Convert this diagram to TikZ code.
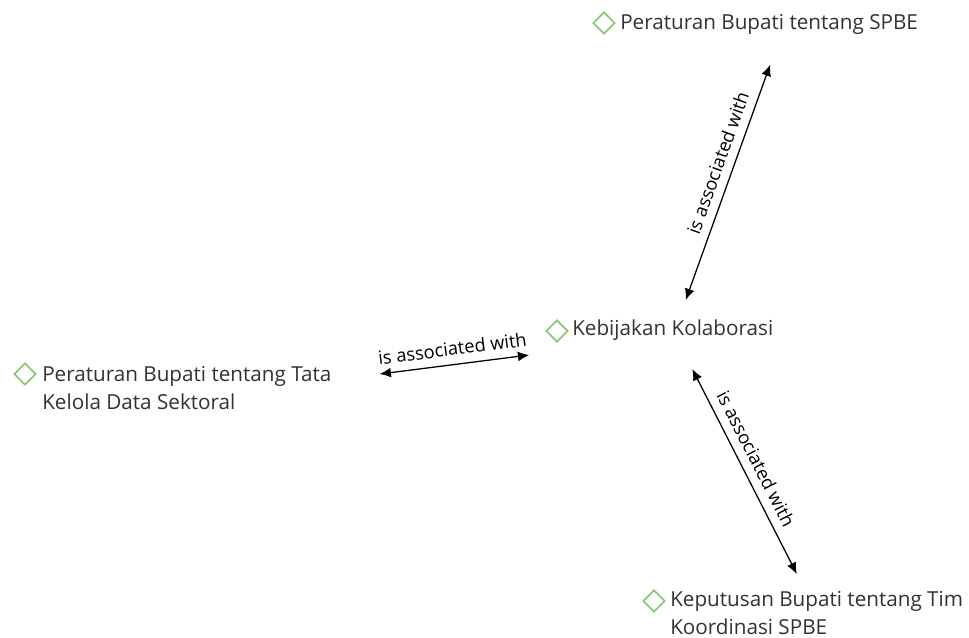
\documentclass[tikz,border=0pt]{standalone}
\usepackage{fontspec}
\setmainfont{Open Sans}
\usepackage{xcolor}
\usepackage{tikz}
\usetikzlibrary{shapes.geometric, arrows.meta, positioning, calc}

\definecolor{markgreen}{RGB}{140,200,120}
\definecolor{conceptgray}{RGB}{50,50,50}

\begin{document}
\begin{tikzpicture}[x=0.025cm, y=-0.025cm, >={Latex[length=8pt,width=7pt]}]
    % Styles
    \tikzstyle{concept} = [inner sep=0pt, anchor=north west, align=left, text=conceptgray, font=\fontsize{14.7}{20}\selectfont]
    \tikzstyle{marker} = [diamond, draw=markgreen, fill=white, line width=1.2pt, minimum size=0.55cm, inner sep=0pt]
    \tikzstyle{line} = [draw, <->, line width=0.9pt]
    \tikzstyle{rel} = [sloped, above, inner sep=6pt, font=\fontsize{13}{15}\selectfont]

    \useasboundingbox (0,0) rectangle (969,638);

    % Nodes
    \node [concept] (kebijakan) at (572,320) {Kebijakan Kolaborasi};
    \node [concept] (spbe) at (620,14) {Peraturan Bupati tentang SPBE};
    \node [concept] (tata) at (42,366) {Peraturan Bupati tentang Tata\\Kelola Data Sektoral};
    \node [concept] (koord) at (670,591) {Keputusan Bupati tentang Tim\\Koordinasi SPBE};

    % Markers
    \node [marker] (kebijakanM) at ([shift={(-15,11)}]kebijakan.north west) {};
    \node [marker] (spbeM) at ([shift={(-16,9)}]spbe.north west) {};
    \node [marker] (tataM) at ([shift={(-17,8)}]tata.north west) {};
    \node [marker] (koordM) at ([shift={(-16,10)}]koord.north west) {};

    % Edges
    \draw [line] ([shift={(13,-20)}]kebijakan.north) -- node [rel, pos=0.56] {is associated with} ([shift={(1,30)}]spbe.south);
    \draw [line] ([shift={(48,-14)}]tata.east) -- node [rel] {is associated with} ([shift={(-16,24)}]kebijakanM.west);
    \draw [line, shorten <=0.78cm, shorten >=0.48cm] (kebijakan) -- node [rel] {is associated with} (koord);
\end{tikzpicture}
\end{document}
